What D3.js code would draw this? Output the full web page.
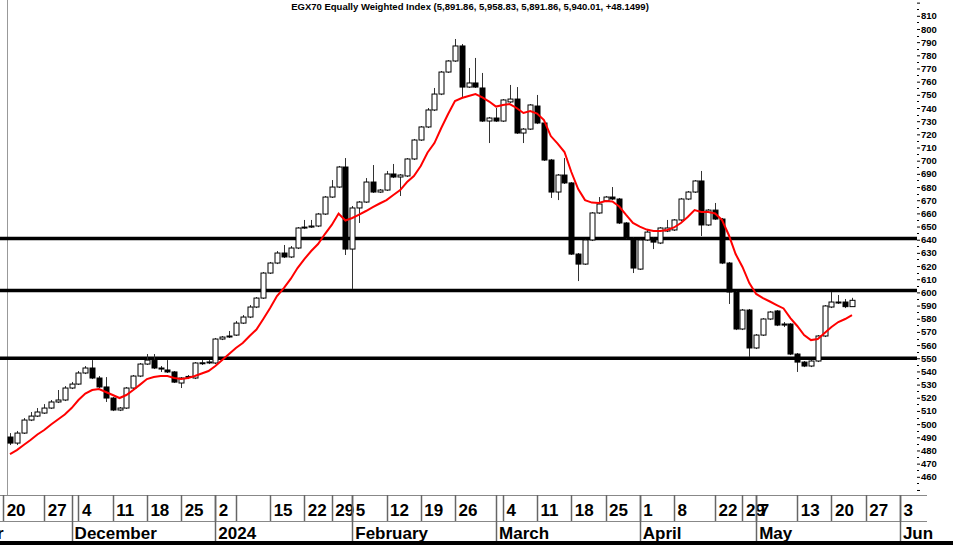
<!DOCTYPE html>
<html><head><meta charset="utf-8">
<script src="https://cdn.jsdelivr.net/npm/d3@7"></script>
<style>
html,body{margin:0;padding:0;background:#fff;}
svg{display:block;}
text{font-family:"Liberation Sans",Arial,sans-serif;font-weight:bold;fill:#000;}
</style></head>
<body><svg id="c" width="953" height="545"></svg>
<script>
const title = "EGX70 Equally Weighted Index (5,891.86, 5,958.83, 5,891.86, 5,940.01, +48.1499)";

const open = [
4902,4856,4932,5031,5061,5084,5122,5168,5183,5274,
5304,5388,5426,5350,5282,5198,5107,5122,5274,5365,
5456,5486,5426,5411,5396,5312,5360,5350,5462,5466,
5464,5646,5665,5676,5767,5813,5889,5957,6147,6223,
6299,6269,6337,6489,6496,6504,6595,6724,6800,6952,
6329,6641,6686,6838,6762,6777,6899,6876,6884,7013,
7157,7256,7385,7506,7673,7757,7871,7559,7590,7552,
7301,7324,7301,7446,7468,7210,7240,7415,7286,7005,
6762,6891,6831,6291,6215,6398,6603,6694,6724,6709,
6527,6413,6177,6398,6413,6375,6466,6474,6550,6709,
6762,6846,6512,6625,6557,6223,6003,5722,5866,5578,
5676,5798,5859,5760,5760,5532,5471,5441,5479,5669,
5889,5920,5927,5891.86];
const high = [
4932,4948,5046,5092,5122,5152,5183,5259,5289,5320,
5403,5441,5486,5365,5357,5206,5130,5282,5373,5464,
5532,5532,5441,5486,5403,5357,5373,5471,5486,5486,
5654,5669,5707,5783,5828,5904,5965,6155,6231,6314,
6360,6352,6496,6550,6550,6603,6732,6853,6960,7020,
6656,6694,6868,6967,6785,6922,6975,6899,7020,7165,
7263,7400,7552,7681,7764,7924,7886,7704,7780,7666,
7332,7400,7468,7575,7559,7248,7430,7499,7294,7013,
6899,7020,6838,6299,6405,6610,6724,6732,6800,6717,
6534,6420,6405,6481,6420,6496,6550,6557,6717,6770,
6853,6922,6633,6679,6565,6231,6010,5874,5874,5684,
5805,5859,5866,5775,5767,5540,5479,5486,5676,5904,
6003,5980,5950,5958.83];
const low = [
4841,4841,4925,5023,5054,5077,5115,5160,5175,5266,
5297,5380,5342,5274,5168,5099,5099,5115,5266,5357,
5449,5418,5396,5388,5312,5274,5342,5342,5449,5456,
5456,5638,5654,5669,5760,5805,5881,5950,6140,6215,
6261,6261,6329,6481,6489,6496,6588,6717,6793,6284,
6026,6527,6679,6755,6755,6770,6868,6732,6876,7005,
7150,7248,7377,7498,7666,7750,7483,7552,7552,7294,
7134,7294,7294,7438,7203,7134,7233,7278,6998,6717,
6701,6823,6284,6086,6208,6390,6596,6686,6701,6519,
6405,6147,6170,6390,6329,6367,6458,6466,6542,6701,
6755,6428,6505,6550,6215,5912,5714,5714,5509,5570,
5669,5790,5744,5737,5524,5396,5433,5433,5471,5661,
5881,5912,5881,5891.86];
const close = [
4856,4932,5031,5061,5092,5122,5168,5183,5274,5304,
5388,5426,5350,5282,5198,5107,5122,5274,5365,5456,
5486,5426,5418,5396,5319,5350,5362,5464,5466,5472,
5646,5661,5669,5767,5813,5889,5957,6147,6223,6299,
6269,6337,6489,6496,6504,6595,6724,6800,6952,6329,
6641,6686,6838,6762,6777,6899,6876,6891,7013,7157,
7256,7385,7506,7673,7757,7871,7559,7590,7559,7301,
7324,7301,7461,7468,7210,7240,7423,7286,7005,6762,
6891,6831,6291,6215,6398,6603,6671,6724,6709,6527,
6413,6185,6398,6458,6382,6489,6489,6550,6709,6762,
6846,6512,6625,6557,6223,6003,5722,5866,5578,5676,
5798,5851,5752,5752,5532,5471,5441,5479,5669,5897,
5927,5927,5891.86,5940.01];
const movingAvg = [
4773,4803,4841,4879,4921,4955,4997,5035,5073,5122,
5183,5232,5259,5266,5244,5221,5198,5221,5259,5300,
5342,5357,5365,5365,5350,5342,5350,5365,5384,5403,
5441,5486,5532,5578,5616,5669,5718,5798,5881,5972,
6033,6102,6185,6253,6314,6367,6443,6512,6599,6546,
6565,6591,6618,6648,6675,6701,6739,6777,6838,6884,
6960,7062,7134,7248,7354,7453,7476,7491,7506,7480,
7449,7411,7423,7430,7400,7362,7377,7358,7309,7187,
7130,7066,6914,6785,6701,6682,6679,6694,6690,6652,
6588,6527,6500,6477,6466,6466,6474,6493,6527,6572,
6625,6610,6610,6599,6550,6436,6291,6193,6071,5988,
5957,5931,5904,5878,5805,5745,5676,5638,5646,5692,
5737,5775,5798,5828];

const levels = [6410, 6015, 5500];

const yMajor = [4500,4600,4700,4800,4900,5000,5100,5200,5300,5400,5500,5600,5700,5800,
  5900,6000,6100,6200,6300,6400,6500,6600,6700,6800,6900,7000,7100,7200,7300,7400,
  7500,7600,7700,7800,7900,8000,8100,8200];
const yLabelled = [4600,4700,4800,4900,5000,5100,5200,5300,5400,5500,5600,5700,5800,
  5900,6000,6100,6200,6300,6400,6500,6600,6700,6800,6900,7000,7100,7200,7300,7400,
  7500,7600,7700,7800,7900,8000,8100];

const weekIdx = [-1,5,10,15,20,25,30,33,38,43,47,50,55,60,65,72,77,82,87,92,97,103,107,109,115,120,125,130];
const weekLbl = ["20","27","4","11","18","25","2","","15","22","29","5","12","19","26","4","11","18","25","1","8","22","29","7","13","20","27","3"];
const monthIdx = [-13.5,9,30,50,71,92,109,130];
const monthLbl = ["November","December","2024","February","March","April","May","Jun"];

const svg = d3.select("#c");
svg.append("rect").attr("width",953).attr("height",545).attr("fill","#fff");

const x = d3.scaleLinear().domain([0,123]).range([10,852]);
const y = d3.scaleLinear().domain([4477,8220]).range([493,0]);
const px = i => Math.round(x(i)) + 0.5;

// left frame
svg.append("line").attr("x1",7.5).attr("x2",7.5).attr("y1",0).attr("y2",495)
  .attr("stroke","#999").attr("stroke-width",1);

// title
svg.append("text").attr("x",470).attr("y",10).attr("text-anchor","middle")
  .attr("font-size",9.5).text(title);

// horizontal levels
svg.append("g").selectAll("line").data(levels).join("line")
  .attr("x1",0).attr("x2",917).attr("y1",d=>y(d)).attr("y2",d=>y(d))
  .attr("stroke","#000").attr("stroke-width",3.5);

// candles
const idx = d3.range(open.length);
const cg = svg.append("g");
cg.selectAll("line").data(idx).join("line")
  .attr("x1",px).attr("x2",px)
  .attr("y1",i=>y(high[i])).attr("y2",i=>y(low[i]))
  .attr("stroke","#333").attr("stroke-width",1);
cg.selectAll("rect").data(idx).join("rect")
  .attr("x",i=>px(i)-2.5).attr("width",5)
  .attr("y",i=>y(Math.max(open[i],close[i])))
  .attr("height",i=>Math.max(1,Math.abs(y(open[i])-y(close[i]))))
  .attr("fill",i=>close[i]>=open[i]?"#fff":"#000")
  .attr("stroke","#000").attr("stroke-width",1);

// moving average
svg.append("path").datum(idx)
  .attr("d",d3.line().x(i=>x(i)).y(i=>y(movingAvg[i])))
  .attr("fill","none").attr("stroke","#ff0000").attr("stroke-width",2);

// right axis
const ax = svg.append("g").attr("transform","translate(917,0)");
ax.call(d3.axisRight(y).tickValues(yMajor).tickSize(3).tickPadding(1)
  .tickFormat(d=>yLabelled.includes(d)?String(d/10):""));
ax.select(".domain").remove();
ax.selectAll("text").attr("font-size",9.5).attr("font-family",null).attr("fill","#000")
  .style("font-weight","bold");
ax.selectAll("line").attr("stroke","#000");
svg.append("g").selectAll("line").data(yMajor.map(d=>d+50).filter(d=>d<8220)).join("line")
  .attr("x1",917).attr("x2",919).attr("y1",d=>Math.round(y(d))+0.5).attr("y2",d=>Math.round(y(d))+0.5)
  .attr("stroke","#000");

// bottom axis
const bx = svg.append("g");
bx.append("line").attr("x1",0).attr("x2",927).attr("y1",495.5).attr("y2",495.5).attr("stroke","#888");
bx.append("line").attr("x1",0).attr("x2",927).attr("y1",521.5).attr("y2",521.5).attr("stroke","#888");
bx.append("rect").attr("x",0).attr("y",541).attr("width",953).attr("height",4).attr("fill","#000");
bx.selectAll(".wt").data(weekIdx).join("text").attr("class","wt")
  .attr("x",i=>x(i)+3.5).attr("y",516).attr("font-size",17)
  .text((d,k)=>weekLbl[k]);
bx.selectAll(".mt").data(monthIdx).join("text").attr("class","mt")
  .attr("x",i=>x(i)+3).attr("y",539).attr("font-size",17)
  .text((d,k)=>monthLbl[k]);
bx.selectAll(".wl").data(weekIdx).join("line").attr("class","wl")
  .attr("x1",px).attr("x2",px).attr("y1",495).attr("y2",521)
  .attr("stroke","#666").attr("stroke-width",1.5);
bx.selectAll(".ml").data(monthIdx).join("line").attr("class","ml")
  .attr("x1",px).attr("x2",px).attr("y1",495).attr("y2",541)
  .attr("stroke","#666").attr("stroke-width",1.5);
</script></body></html>
